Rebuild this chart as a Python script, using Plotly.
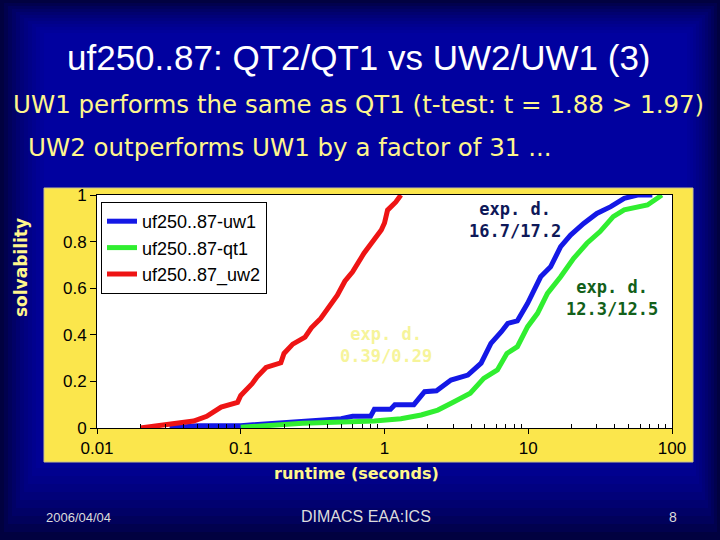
import plotly.graph_objects as go

# ---------------- data ----------------
uw1_x = [0.032, 0.05, 0.1, 0.13, 0.24, 0.5, 0.6, 0.8, 0.85, 1.1, 1.18, 1.6, 1.9, 2.3, 2.9, 3.8,
         4.7, 5.5, 6.5, 7.2, 8.4, 9.9, 12.2, 14.3, 16.8, 19.7, 24.3, 30, 37.5, 46.5, 57.5, 73]
uw1_y = [0.0, 0.01, 0.01, 0.015, 0.03, 0.04, 0.05, 0.05, 0.08, 0.08, 0.10, 0.10, 0.156, 0.16,
         0.206, 0.227, 0.278, 0.363, 0.413, 0.449, 0.46, 0.535, 0.649, 0.692, 0.778, 0.828,
         0.878, 0.921, 0.95, 0.986, 1.0, 1.0]

qt1_x = [0.1, 0.27, 0.85, 1.3, 1.8, 2.35, 3.05, 3.95, 4.9, 6.1, 7.1, 8.4, 9.9, 11.6, 13.6,
         16.8, 20.7, 25.6, 31.6, 39, 46.5, 67.5, 79, 85]
qt1_y = [0.003, 0.02, 0.03, 0.04, 0.056, 0.077, 0.113, 0.149, 0.213, 0.249, 0.32, 0.349,
         0.435, 0.492, 0.578, 0.649, 0.728, 0.793, 0.843, 0.907, 0.936, 0.957, 0.986, 1.0]

uw2_x = [0.02, 0.0275, 0.036, 0.047, 0.058, 0.073, 0.095, 0.1, 0.12, 0.13, 0.15, 0.19, 0.2,
         0.23, 0.28, 0.31, 0.36, 0.41, 0.47, 0.53, 0.6, 0.72, 0.81, 0.95, 1.0, 1.05, 1.2, 1.3]
uw2_y = [0, 0.01, 0.02, 0.03, 0.05, 0.09, 0.11, 0.14, 0.19, 0.22, 0.26, 0.28, 0.32, 0.36,
         0.39, 0.43, 0.47, 0.52, 0.57, 0.63, 0.67, 0.75, 0.79, 0.85, 0.88, 0.935, 0.97, 1.0]

series_names = ["uf250..87-uw1", "uf250..87-qt1", "uf250..87_uw2"]

x_tickvals = [0.01, 0.1, 1, 10, 100]
x_ticktext = ["0.01", "0.1", "1", "10", "100"]
y_tickvals = [0, 0.2, 0.4, 0.6, 0.8, 1]
y_ticktext = ["0", "0.2", "0.4", "0.6", "0.8", "1"]

title_text = "uf250..87: QT2/QT1 vs UW2/UW1 (3)"
sub1_text = "UW1 performs the same as QT1 (t-test: t = 1.88 > 1.97)"
sub2_text = "UW2 outperforms UW1 by a factor of 31 ..."
xlabel_text = "runtime (seconds)"
ylabel_text = "solvability"
note_uw1 = "exp. d.<br>16.7/17.2"
note_qt1 = "exp. d.<br>12.3/12.5"
note_uw2 = "exp. d.<br>0.39/0.29"
footer_left = "2006/04/04"
footer_mid = "DIMACS EAA:ICS"
footer_right = "8"

# ---------------- layout geometry ----------------
W, H = 720, 540
L, R, T, B = 97, 48, 195, 112
PW, PH = W - L - R, H - T - B


def px(x):
    return (x - L) / PW


def py(y):
    return (H - B - y) / PH


fig = go.Figure()
colors = ["#1418e6", "#30ee30", "#ee1414"]
for nm, xs, ys, c in zip(series_names, [uw1_x, qt1_x, uw2_x], [uw1_y, qt1_y, uw2_y], colors):
    fig.add_trace(go.Scatter(x=xs, y=ys, mode="lines", name=nm,
                             line=dict(color=c, width=5)))

shapes = []
# background vignette
base_steps = dict(l=4, r=3, t=3, b=8)
for i in range(12):
    x0 = i * base_steps["l"]
    x1 = W - i * base_steps["r"]
    y0 = i * base_steps["t"]
    y1 = H - i * base_steps["b"]
    shapes.append(dict(type="rect", xref="paper", yref="paper", layer="below",
                       x0=px(x0), x1=px(x1), y0=py(y1), y1=py(y0),
                       line=dict(width=0), fillcolor="rgba(14,14,205,0.10)"))
# yellow panel
shapes.append(dict(type="rect", xref="paper", yref="paper", layer="below",
                   x0=px(44), x1=px(693), y0=py(462), y1=py(188),
                   line=dict(width=1, color="#c8c090"), fillcolor="#fbe64c"))
# white plot area
shapes.append(dict(type="rect", xref="paper", yref="paper", layer="below",
                   x0=0, x1=1, y0=0, y1=1, line=dict(width=0), fillcolor="white"))

ann = []


def add_text(text, x, y, size, color, family, xanchor="center", bold=False, angle=0):
    ann.append(dict(text=("<b>%s</b>" % text) if bold else text, x=px(x), y=py(y),
                    xref="paper", yref="paper", showarrow=False, xanchor=xanchor,
                    yanchor="middle", textangle=angle,
                    font=dict(size=size, color=color, family=family)))


sans = "Liberation Sans, Arial, sans-serif"
comic = "DejaVu Sans, sans-serif"
mono = "DejaVu Sans Mono, monospace"
yellow = "#fff68c"

add_text(title_text, 359, 57, 35, "white", sans)
add_text(sub1_text, 358, 105, 24.5, yellow, comic)
add_text(sub2_text, 26, 148, 24.5, yellow, comic, xanchor="left")
add_text(xlabel_text, 356, 473, 16, yellow, comic, bold=True)
add_text(ylabel_text, 21, 268, 17, yellow, comic, bold=True, angle=-90)

# curve annotations
add_text(note_uw1, 515, 220, 17, "#0e1858", mono, bold=True)
add_text(note_qt1, 612, 298, 17, "#12601a", mono, bold=True)
add_text(note_uw2, 386, 345, 17, "#f6f49a", mono, bold=True)

# footer
narrow = "Liberation Sans Narrow, Liberation Sans, Arial, sans-serif"
add_text(footer_left, 78, 517, 13, "#dcdcdc", narrow)
add_text(footer_mid, 366, 516, 16, "#dcdcdc", narrow)
add_text(footer_right, 673, 517, 14, "#dcdcdc", narrow)

minor_vals = [m * 10 ** k for k in range(-2, 2) for m in range(2, 10)]

fig.update_layout(
    width=W, height=H,
    margin=dict(l=L, r=R, t=T, b=B, pad=0),
    paper_bgcolor="#000030",
    plot_bgcolor="rgba(0,0,0,0)",
    shapes=shapes,
    annotations=ann,
    showlegend=True,
    legend=dict(x=px(101), y=py(202), xanchor="left", yanchor="top",
                bgcolor="white", bordercolor="black", borderwidth=1,
                font=dict(family=sans, size=18, color="black")),
    xaxis=dict(type="log", range=[-2, 2], tickvals=x_tickvals, ticktext=x_ticktext,
               showgrid=False, zeroline=False, showline=True, linecolor="black",
               linewidth=1, mirror=True, ticks="outside", ticklen=5, tickcolor="black",
               tickfont=dict(family=sans, size=17, color="black"),
               minor=dict(tickvals=minor_vals, ticks="inside", ticklen=4,
                          tickcolor="black", showgrid=False)),
    yaxis=dict(range=[0, 1], tickvals=y_tickvals, ticktext=y_ticktext,
               showgrid=False, zeroline=False, showline=True, linecolor="black",
               linewidth=1, mirror=True, ticks="outside", ticklen=6, tickcolor="black",
               tickfont=dict(family=sans, size=17, color="black")),
)

fig.write_html("out.html",
               config={"displayModeBar": False},
               post_script="document.body.style.margin='0';"
                           "document.body.style.background='#000030';")
